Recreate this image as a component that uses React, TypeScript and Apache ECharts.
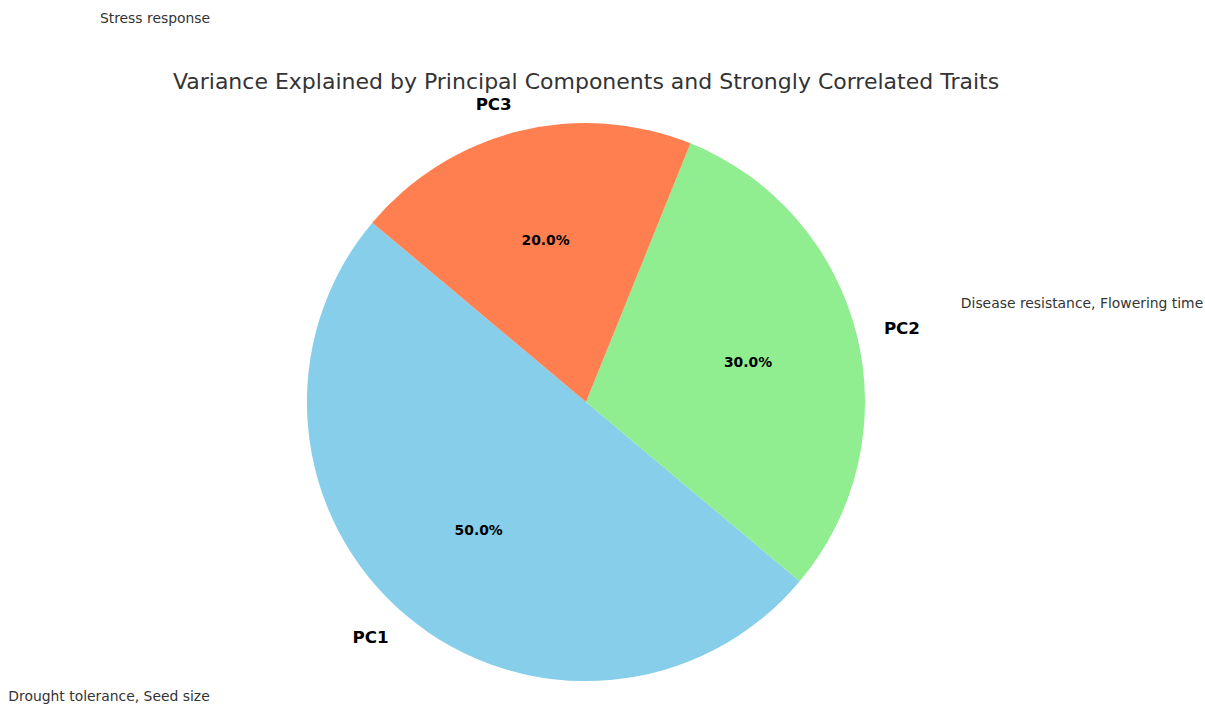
import React, { useEffect, useRef } from "react";
import * as echarts from "echarts";

const components = ["PC1", "PC2", "PC3"];
const variance = [50, 30, 20];
const colors = ["#87CEEB", "#90EE90", "#FF7F50"];
const traits = ["Drought tolerance, Seed size", "Disease resistance, Flowering time", "Stress response"];
const titleText = "Variance Explained by Principal Components and Strongly Correlated Traits";

const FONT = "DejaVu Sans";

export default function App() {
  const ref = useRef<HTMLDivElement>(null);
  useEffect(() => {
    if (!ref.current) return;
    const chart = echarts.init(ref.current, undefined, { renderer: "svg" });
    const total = variance.reduce((a, b) => a + b, 0);
    const data = components.map((name, i) => ({
      name,
      value: variance[i],
      itemStyle: { color: colors[i] },
    }));
    const tracePositions = [
      { x: 109, y: 696 },
      { x: 1082, y: 303 },
      { x: 155, y: 18 },
    ];
    chart.setOption({
      animation: false,
      backgroundColor: "#ffffff",
      graphic: [
        {
          type: "text",
          x: 586,
          y: 81,
          style: {
            text: titleText,
            fontFamily: FONT,
            fontSize: 22,
            fill: "#333333",
            textAlign: "center",
            textVerticalAlign: "middle",
          },
        },
        ...traits.map((t, i) => ({
          type: "text",
          x: tracePositions[i].x,
          y: tracePositions[i].y,
          style: {
            text: t,
            fontFamily: FONT,
            fontSize: 13.9,
            fill: "#333333",
            textAlign: "center",
            textVerticalAlign: "middle",
          },
        })),
      ],
      series: [
        {
          type: "pie",
          center: [586, 402],
          radius: 279,
          startAngle: 140,
          clockwise: false,
          avoidLabelOverlap: false,
          silent: true,
          itemStyle: { borderWidth: 0 },
          label: {
            show: true,
            position: "outside",
            formatter: "{b}",
            fontFamily: FONT,
            fontSize: 16.7,
            fontWeight: "bold",
            color: "#000000",
            distanceToLabelLine: 0,
          },
          labelLine: { show: false, length: 28, length2: 0 },
          data,
        },
        {
          type: "pie",
          center: [586, 402],
          radius: 328,
          startAngle: 140,
          clockwise: false,
          avoidLabelOverlap: false,
          silent: true,
          z: 3,
          itemStyle: { color: "rgba(0,0,0,0)", borderWidth: 0 },
          label: {
            show: true,
            position: "inside",
            formatter: (p: any) => ((p.value / total) * 100).toFixed(1) + "%",
            fontFamily: FONT,
            fontSize: 13.9,
            fontWeight: "bold",
            color: "#000000",
          },
          labelLine: { show: false },
          data: components.map((name, i) => ({ name, value: variance[i] })),
        },
      ],
    });
    return () => chart.dispose();
  }, []);
  return (
    <div
      ref={ref}
      style={{ position: "fixed", left: 0, top: 0, width: 1205, height: 704 }}
    />
  );
}
